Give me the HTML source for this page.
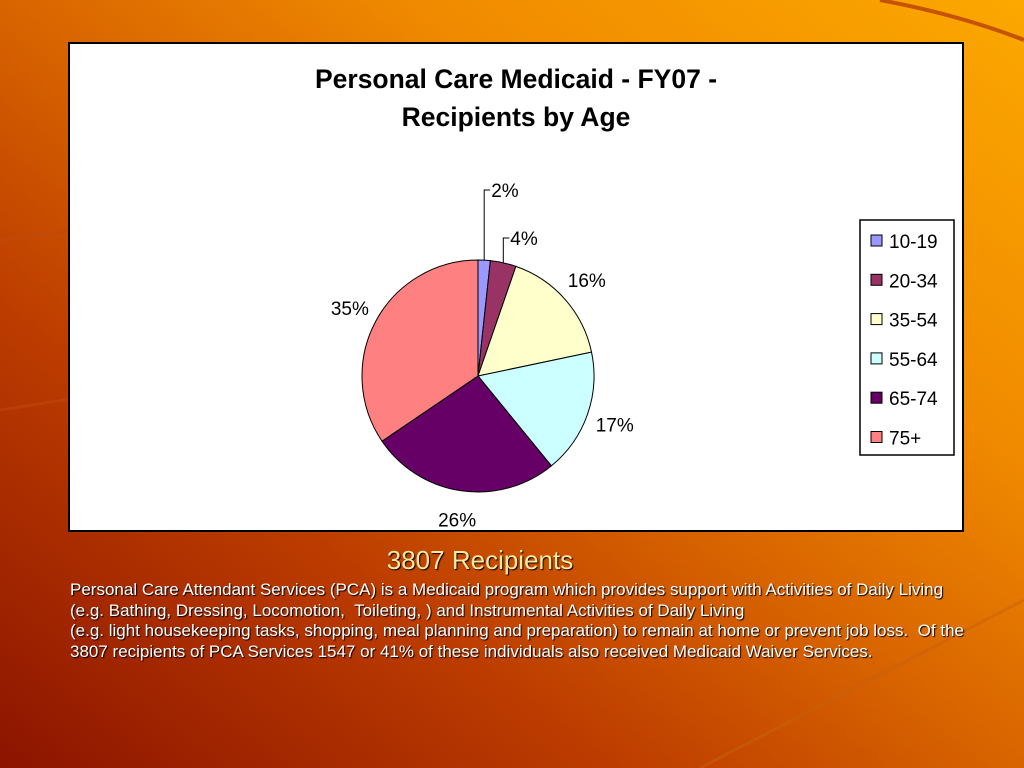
<!DOCTYPE html>
<html><head><meta charset="utf-8"><style>
body{margin:0;width:1024px;height:768px;overflow:hidden;font-family:"Liberation Sans",sans-serif;}
#bg{position:absolute;left:0;top:0;width:1024px;height:768px;
background:linear-gradient(to bottom left,#fca800 0%,#f08a00 30%,#d86400 50%,#bc3c00 70%,#8c1400 100%);}
#chart{position:absolute;left:68px;top:42px;width:892px;height:486px;background:#fff;border:2px solid #000;}
.cap{position:absolute;color:#fff;text-shadow:1px 1px 1px #000;}
</style></head><body>
<div id="bg"></div>
<svg style="position:absolute;left:0;top:0" width="1024" height="768">
<path d="M0 240 L120 225" stroke="#c04a10" stroke-width="3" opacity="0.6"/>
<path d="M0 410 L160 385" stroke="#c04a10" stroke-width="3" opacity="0.5"/>
<path d="M880 0 Q960 15 1024 40" stroke="#a02000" stroke-width="4" fill="none" opacity="0.6"/>
<path d="M700 768 Q870 680 1024 600" stroke="#c86010" stroke-width="3" fill="none" opacity="0.5"/>
</svg>
<div id="chart">
<svg width="892" height="486" id="svg">
<text x="446" y="44" text-anchor="middle" font-size="26.5" font-weight="bold">Personal Care Medicaid - FY07 -</text>
<text x="446" y="82" text-anchor="middle" font-size="26.5" font-weight="bold">Recipients by Age</text>
<g id="pie"></g>
<rect x="790" y="176" width="94" height="235" fill="#fff" stroke="#000" stroke-width="1.5"/>
<g id="legend"></g>
</svg>
</div>
<div class="cap" style="left:0;width:960px;top:545px;text-align:center;font-size:26px;color:#ffe9a0">3807 Recipients</div>
<div class="cap" style="left:70px;top:580px;width:940px;font-size:17px;line-height:20.5px">Personal Care Attendant Services (PCA) is a Medicaid program which provides support with Activities of Daily Living<br>(e.g. Bathing, Dressing, Locomotion,&nbsp; Toileting, ) and Instrumental Activities of Daily Living<br>(e.g. light housekeeping tasks, shopping, meal planning and preparation) to remain at home or prevent job loss.&nbsp; Of the<br>3807 recipients of PCA Services 1547 or 41% of these individuals also received Medicaid Waiver Services.</div>
<script>
const categories=["10-19","20-34","35-54","55-64","65-74","75+"];
const values=[1.7,3.6,16.4,17.4,26.4,34.5];
const colors=["#9999ff","#993366","#ffffcc","#ccffff","#660066","#ff8080"];
const cx=408,cy=332,r=116,lr=145;
const NS="http://www.w3.org/2000/svg";
const pie=document.getElementById('pie'),leg=document.getElementById('legend');
const total=values.reduce((a,b)=>a+b,0);
function pt(a,rad){return [cx+rad*Math.sin(a),cy-rad*Math.cos(a)];}
let a0=0;
values.forEach((v,i)=>{
 const a1=a0+v/total*2*Math.PI;
 const p0=pt(a0,r),p1=pt(a1,r);
 const path=document.createElementNS(NS,'path');
 path.setAttribute('d',`M${cx},${cy}L${p0[0]},${p0[1]}A${r},${r} 0 ${a1-a0>Math.PI?1:0} 1 ${p1[0]},${p1[1]}Z`);
 path.setAttribute('fill',colors[i]);path.setAttribute('stroke','#000');path.setAttribute('stroke-width','1');
 
 
 pie.appendChild(path);
 const am=(a0+a1)/2;
 const t=document.createElementNS(NS,'text');
 t.setAttribute('font-size','19');
 t.textContent=Math.round(v/total*100)+'%';
 if(v/total<0.05){
  const e=pt(am,r);
  const ly=i==0?cy-186:cy-138;
  const l=document.createElementNS(NS,'path');
  l.setAttribute('d',`M${e[0]},${e[1]}L${e[0]},${ly}L${e[0]+6},${ly}`);
  l.setAttribute('stroke','#000');l.setAttribute('fill','none');
  
  
  pie.appendChild(l);
  t.setAttribute('x',e[0]+7);t.setAttribute('y',ly+7);
 } else {
  const p=pt(am,lr);
  t.setAttribute('x',p[0]);t.setAttribute('y',p[1]+7);t.setAttribute('text-anchor','middle');
 }
 
 
 pie.appendChild(t);
 a0=a1;
 const y=197+i*39.3;
 const sq=document.createElementNS(NS,'rect');
 sq.setAttribute('x',801);sq.setAttribute('y',y-6);sq.setAttribute('width',11);sq.setAttribute('height',11);
 sq.setAttribute('fill',colors[i]);sq.setAttribute('stroke','#000');
 
 
 leg.appendChild(sq);
 const lt=document.createElementNS(NS,'text');
 lt.setAttribute('x',819);lt.setAttribute('y',y+7);lt.setAttribute('font-size','19');lt.textContent=categories[i];
 
 
 leg.appendChild(lt);
});
</script>
</body></html>
